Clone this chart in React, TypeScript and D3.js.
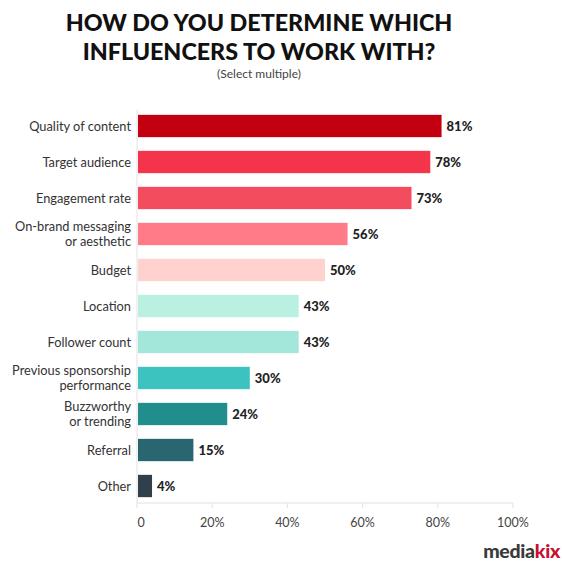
import { useEffect, useRef } from "react";
import * as d3 from "d3";

const categories = [
  "Quality of content",
  "Target audience",
  "Engagement rate",
  "On-brand messaging\nor aesthetic",
  "Budget",
  "Location",
  "Follower count",
  "Previous sponsorship\nperformance",
  "Buzzworthy\nor trending",
  "Referral",
  "Other",
];
const values = [81, 78, 73, 56, 50, 43, 43, 30, 24, 15, 4];
const barColors = [
  "#C2000F",
  "#F3344B",
  "#F34C5F",
  "#FF7B88",
  "#FFD1CF",
  "#B9F0E1",
  "#A2E7D9",
  "#3CC3BF",
  "#218D8D",
  "#296670",
  "#2F3F4B",
];
const ticks = [0, 20, 40, 60, 80, 100];

const W = 563;
const H = 568;
const FONT = "Lato, 'Open Sans', sans-serif";

export default function App() {
  const ref = useRef<SVGSVGElement>(null);

  useEffect(() => {
    document.body.style.margin = "0";
    if (!ref.current) return;
    const svg = d3.select(ref.current);
    svg.selectAll("*").remove();

    svg.append("rect").attr("width", W).attr("height", H).attr("fill", "#fff");

    const x = d3.scaleLinear().domain([0, 100]).range([137, 513]);
    const y = d3
      .scaleBand<string>()
      .domain(categories)
      .range([108, 504])
      .paddingInner(0.38)
      .paddingOuter(0.19);

    // title
    const title = svg
      .append("text")
      .attr("text-anchor", "middle")
      .attr("font-family", FONT)
      .attr("font-weight", 900)
      .attr("font-size", 23.3)
      .attr("fill", "#111");
    title.append("tspan").attr("x", 259).attr("y", 31).text("HOW DO YOU DETERMINE WHICH");
    title.append("tspan").attr("x", 259).attr("y", 60).text("INFLUENCERS TO WORK WITH?");

    svg
      .append("text")
      .attr("x", 259)
      .attr("y", 78)
      .attr("text-anchor", "middle")
      .attr("font-family", FONT)
      .attr("font-size", 12)
      .attr("fill", "#444")
      .text("(Select multiple)");

    // axis lines
    svg
      .append("line")
      .attr("x1", x(0))
      .attr("x2", x(0))
      .attr("y1", 110)
      .attr("y2", 503)
      .attr("stroke", "#e2e2e2");

    const axis = svg.append("g").attr("transform", "translate(0,503)");
    axis
      .append("line")
      .attr("x1", x(0))
      .attr("x2", x(100))
      .attr("stroke", "#e2e2e2");
    axis
      .selectAll("line.tick")
      .data(ticks)
      .join("line")
      .attr("class", "tick")
      .attr("x1", (d) => x(d))
      .attr("x2", (d) => x(d))
      .attr("y1", 0)
      .attr("y2", 5)
      .attr("stroke", "#e2e2e2");
    axis
      .selectAll("text")
      .data(ticks)
      .join("text")
      .attr("x", (d) => x(d) + (d === 0 ? 4 : 0))
      .attr("y", 24)
      .attr("text-anchor", "middle")
      .attr("font-family", FONT)
      .attr("font-size", 12.5)
      .attr("fill", "#444")
      .text((d) => (d === 0 ? "0" : `${d}%`));

    // bars
    svg
      .append("g")
      .selectAll("rect")
      .data(values)
      .join("rect")
      .attr("x", x(0) + 1)
      .attr("y", (_, i) => y(categories[i])!)
      .attr("width", (d) => x(d) - x(0) - 1)
      .attr("height", y.bandwidth())
      .attr("fill", (_, i) => barColors[i]);

    // value labels
    svg
      .append("g")
      .selectAll("text")
      .data(values)
      .join("text")
      .attr("x", (d) => x(d) + 5)
      .attr("y", (_, i) => y(categories[i])! + y.bandwidth() / 2)
      .attr("dy", "0.36em")
      .attr("font-family", FONT)
      .attr("font-weight", 900)
      .attr("font-size", 13)
      .attr("fill", "#222")
      .text((d) => `${d}%`);

    // category labels
    const labels = svg
      .append("g")
      .selectAll("text")
      .data(categories)
      .join("text")
      .attr("text-anchor", "end")
      .attr("font-family", FONT)
      .attr("font-size", 12.8)
      .attr("fill", "#333");
    labels.each(function (d) {
      const lines = d.split("\n");
      const cy = y(d)! + y.bandwidth() / 2;
      const t = d3.select(this);
      lines.forEach((ln, j) => {
        t.append("tspan")
          .attr("x", 131)
          .attr("y", cy + (j - (lines.length - 1) / 2) * 15)
          .attr("dy", "0.36em")
          .text(ln);
      });
    });

    // logo
    const logo = svg
      .append("text")
      .attr("x", 560)
      .attr("y", 558)
      .attr("text-anchor", "end")
      .attr("font-family", FONT)
      .attr("font-weight", 900)
      .attr("font-size", 19.5)
      .attr("letter-spacing", -0.3);
    logo.append("tspan").attr("fill", "#3a3a3a").text("media");
    logo.append("tspan").attr("fill", "#C8102E").text("kix");
  }, []);

  return <svg ref={ref} width={W} height={H} style={{ display: "block" }} />;
}
